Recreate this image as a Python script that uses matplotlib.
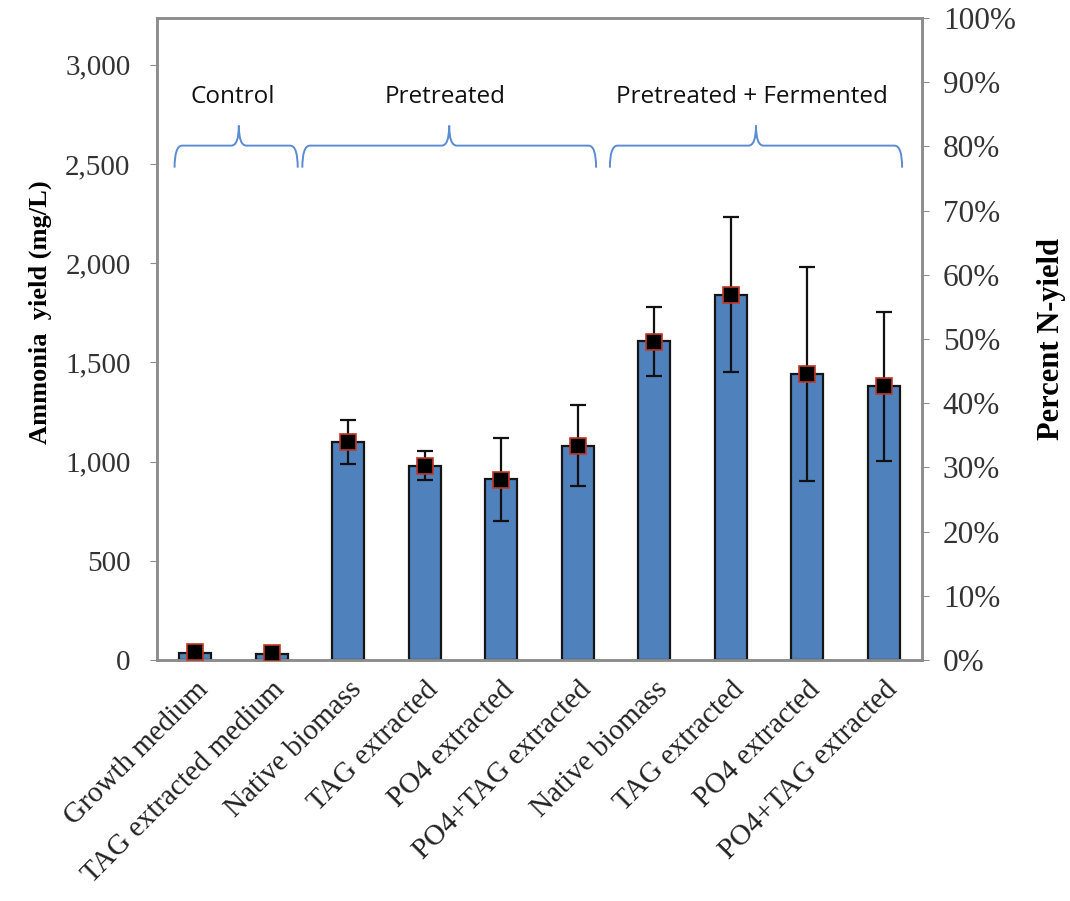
import matplotlib
matplotlib.use('Agg')
import matplotlib.pyplot as plt
from matplotlib.path import Path
from matplotlib.patches import PathPatch
from matplotlib.ticker import FuncFormatter, PercentFormatter
import numpy as np

# ammonia yield per treatment (mg/L) and percent N-yield
categorias = ['Growth medium', 'TAG extracted medium', 'Native biomass', 'TAG extracted',
              'PO4 extracted', 'PO4+TAG extracted', 'Native biomass', 'TAG extracted',
              'PO4 extracted', 'PO4+TAG extracted']
amonio = [35, 30, 1100, 980, 910, 1080, 1605, 1840, 1440, 1380]
error = [0, 0, 110, 75, 210, 205, 175, 390, 540, 375]
pct_n = [0.012, 0.011, 0.339, 0.302, 0.281, 0.333, 0.496, 0.569, 0.445, 0.427]

# grupos: (texto, x inicio, x fin, x del pico)
grupos = [('Control', -0.27, 1.34, 0.57),
          ('Pretreated', 1.40, 5.24, 3.32),
          ('Pretreated + Fermented', 5.42, 9.24, 7.33)]

serif = 'Liberation Serif'
gris = '#8c8c8c'

fig = plt.figure(figsize=(10.7, 9.01), dpi=100)
ax = fig.add_axes([0.1467, 0.2675, 0.715, 0.7125])
x = np.arange(len(categorias))

ax.bar(x, amonio, width=0.42, color='#4F81BD', edgecolor='#151515', linewidth=1.6, zorder=2)
ax.errorbar(x[2:], amonio[2:], yerr=error[2:], fmt='none', ecolor='#111111',
            elinewidth=1.6, capsize=6, capthick=1.6, zorder=3)
ax.set_xlim(-0.5, 9.5)
ax.set_ylim(0, 3235)
ax.set_yticks(np.arange(0, 3001, 500))
ax.yaxis.set_major_formatter(FuncFormatter(lambda v, p: f'{int(v):,}'))
ax.set_xticks(x)
ax.set_xticklabels(categorias, rotation=45, ha='right', rotation_mode='anchor',
                   fontsize=21, family=serif, color='#222222')
ax.tick_params(axis='x', length=0, pad=12)
ax.tick_params(axis='y', length=5, color=gris, labelsize=21, pad=14, labelcolor='#333333')
for lab in ax.get_yticklabels():
    lab.set_family(serif)
ax.set_ylabel('Ammonia  yield (mg/L)', fontsize=19, fontweight='bold', family=serif)
ax.yaxis.set_label_coords(-0.137, 0.542)
for s in ax.spines.values():
    s.set_color(gris)
    s.set_linewidth(1.8)

# llaves de los grupos
yt, yh, ya, r = 2481, 2592, 2693, 0.10
for texto, x0, x1, xa in grupos:
    verts = [(x0, yt), (x0, yh), (x0 + r, yh), (xa - r, yh), (xa, yh), (xa, ya),
             (xa, yh), (xa + r, yh), (x1 - r, yh), (x1, yh), (x1, yt)]
    codes = [Path.MOVETO, Path.CURVE3, Path.CURVE3, Path.LINETO, Path.CURVE3, Path.CURVE3,
             Path.CURVE3, Path.CURVE3, Path.LINETO, Path.CURVE3, Path.CURVE3]
    ax.add_patch(PathPatch(Path(verts, codes), fill=False, edgecolor='#5B8BD0', linewidth=1.4))
    ax.text((x0 + x1) / 2 - 0.05, 2835, texto, ha='center', va='center', fontsize=17.5,
            family='Open Sans', color='#111111')

ax2 = ax.twinx()
ax2.plot(x, pct_n, linestyle='none', marker='s', markersize=11, markerfacecolor='black',
         markeredgecolor='#c0392b', markeredgewidth=1.2, zorder=4)
ax2.set_ylim(0, 1)
ax2.set_yticks(np.arange(0, 1.01, 0.1))
ax2.yaxis.set_major_formatter(PercentFormatter(1.0, decimals=0))
ax2.tick_params(axis='y', length=5, color=gris, labelsize=22.5, pad=10, labelcolor='#333333')
for lab in ax2.get_yticklabels():
    lab.set_family(serif)
ax2.set_ylabel('Percent N-yield', fontsize=22, fontweight='bold', family=serif)
ax2.yaxis.set_label_coords(1.150, 0.50)
for s in ax2.spines.values():
    s.set_color(gris)
    s.set_linewidth(1.8)

fig.savefig('out.png', dpi=100)
